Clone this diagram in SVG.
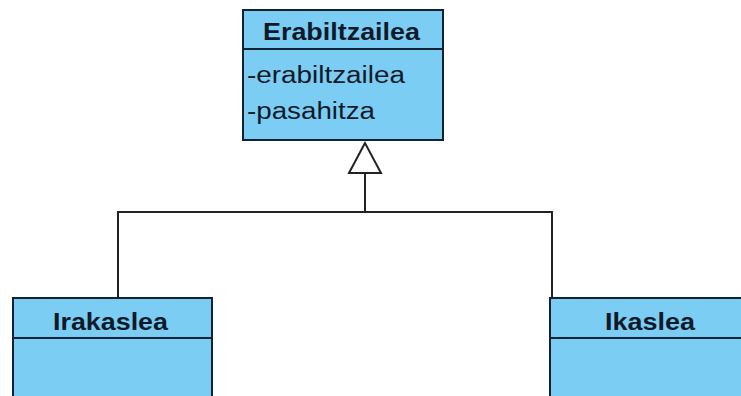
<svg xmlns="http://www.w3.org/2000/svg" width="741" height="396" viewBox="0 0 741 396">
  <style>
    .box { fill: #7ccdf3; stroke: #142236; stroke-width: 2; }
    .div { stroke: #142236; stroke-width: 2; }
    .name { font-family: "Liberation Sans", Arial, sans-serif; font-weight: bold; font-size: 23px; fill: #0e1a2a; }
    .attr { font-family: "Liberation Sans", Arial, sans-serif; font-size: 23px; fill: #0e1a2a; }
    .wire { fill: none; stroke: #222; stroke-width: 2; }
  </style>
  <rect width="741" height="396" fill="#ffffff"/>

  <!-- Generalisation connectors -->
  <g id="connectors">
    <path class="wire" d="M118 298 V212 H552 V298"/>
    <path class="wire" d="M365 212 V173"/>
    <polygon points="365,143 349,173 381,173" fill="#ffffff" stroke="#222" stroke-width="2"/>
  </g>

  <!-- Superclass -->
  <g id="Erabiltzailea">
    <rect class="box" x="243" y="10" width="200" height="130"/>
    <line class="div" x1="243" y1="49" x2="443" y2="49"/>
    <text class="name" x="263" y="40" textLength="157" lengthAdjust="spacingAndGlyphs">Erabiltzailea</text>
    <text class="attr" x="247" y="83" textLength="158" lengthAdjust="spacingAndGlyphs">-erabiltzailea</text>
    <text class="attr" x="247" y="119" textLength="128" lengthAdjust="spacingAndGlyphs">-pasahitza</text>
  </g>

  <!-- Subclasses -->
  <g id="Irakaslea">
    <rect class="box" x="13" y="298" width="199" height="110"/>
    <line class="div" x1="13" y1="338" x2="212" y2="338"/>
    <text class="name" x="53" y="330" textLength="115" lengthAdjust="spacingAndGlyphs">Irakaslea</text>
  </g>

  <g id="Ikaslea">
    <rect class="box" x="550" y="298" width="199" height="110"/>
    <line class="div" x1="550" y1="338" x2="749" y2="338"/>
    <text class="name" x="605" y="330" textLength="90" lengthAdjust="spacingAndGlyphs">Ikaslea</text>
  </g>
</svg>
